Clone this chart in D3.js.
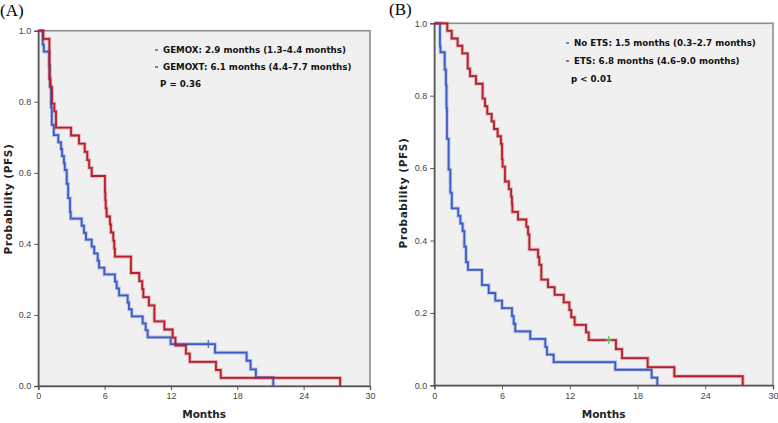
<!DOCTYPE html>
<html>
<head>
<meta charset="utf-8">
<script src="https://cdn.jsdelivr.net/npm/d3@7"></script>
<style>
  body { margin: 0; background: #fff; }
  svg { display: block; }
</style>
</head>
<body>
<svg id="chart" width="778" height="423"></svg>
<script>
// values
const xTicks = [0, 6, 12, 18, 24, 30];
const yTicks = [0, 0.2, 0.4, 0.6, 0.8, 1.0];

// (A) GEMOX vs GEMOXT
const gemoxTime = [0.4, 0.5, 1.0, 1.05, 1.15, 1.22, 1.4, 1.81, 2.05, 2.15, 2.32, 2.4, 2.57, 2.7, 2.87, 2.93,
  3.92, 4.13, 4.31, 4.83, 5.06, 5.37, 5.49, 5.97, 6.93, 7.09, 7.3, 8.08, 8.2, 8.45, 9.44, 9.71, 9.89, 11.97,
  15.98, 18.84, 19.2, 19.68, 21.25];
const gemoxSurv = [0.961, 0.941, 0.902, 0.843, 0.784, 0.735, 0.706, 0.686, 0.667, 0.647, 0.627, 0.608, 0.569, 0.529, 0.49, 0.471,
  0.451, 0.431, 0.412, 0.392, 0.373, 0.353, 0.333, 0.314, 0.294, 0.275, 0.255, 0.235, 0.216, 0.196, 0.176, 0.157, 0.137, 0.118,
  0.094, 0.071, 0.047, 0.024, 0];
const gemoxCensor = [15.37];

const gemoxtTime = [0.45, 1.0, 1.1, 1.24, 1.45, 1.6, 2.96, 3.68, 4.2, 4.43, 4.6, 4.83,
  6.03, 6.06, 6.1, 6.18, 6.48, 6.57, 6.78, 6.87, 6.93, 8.38, 9.13, 9.4, 9.5, 10.0, 10.5,
  11.4, 12.15, 12.4, 13.35, 13.7, 16.07, 16.5, 27.3];
const gemoxtSurv = [0.977, 0.864, 0.841, 0.795, 0.773, 0.727, 0.705, 0.682, 0.659, 0.636, 0.614, 0.591,
  0.545, 0.523, 0.5, 0.477, 0.455, 0.432, 0.409, 0.386, 0.364, 0.318, 0.295, 0.273, 0.25, 0.227, 0.182,
  0.159, 0.136, 0.114, 0.091, 0.068, 0.045, 0.023, 0];
const gemoxtCensor = [];

// (B) No ETS vs ETS
const noEtsTime = [0.5, 0.55, 0.92, 1.03, 1.08, 1.12, 1.27, 1.42, 1.55, 2.12, 2.31, 2.51, 2.66, 2.81, 2.98,
  4.22, 4.82, 5.4, 6.0, 6.88, 7.03, 7.17, 8.5, 9.83, 9.98, 10.57, 16.03, 19.25, 19.75];
const noEtsSurv = [0.936, 0.92, 0.872, 0.83, 0.766, 0.681, 0.596, 0.532, 0.489, 0.468, 0.447, 0.426, 0.383, 0.34, 0.319,
  0.277, 0.255, 0.234, 0.213, 0.191, 0.17, 0.149, 0.128, 0.106, 0.085, 0.064, 0.043, 0.021, 0];
const noEtsCensor = [];

const etsTime = [1.15, 1.54, 2.07, 2.48, 2.96, 3.16, 3.69, 4.28, 4.49, 4.69, 5.08, 5.29, 5.61, 5.9,
  6.0, 6.05, 6.26, 6.6, 6.8, 6.88, 6.92, 7.41, 8.15, 8.3, 8.42, 9.19, 9.3, 9.48, 10.07, 10.66,
  11.46, 11.96, 12.13, 12.43, 13.44, 13.68, 16.09, 16.63, 18.9, 21.26, 27.32];
const etsSurv = [0.979, 0.958, 0.938, 0.917, 0.875, 0.854, 0.833, 0.792, 0.771, 0.75, 0.729, 0.708, 0.688, 0.667,
  0.625, 0.604, 0.563, 0.542, 0.521, 0.5, 0.479, 0.458, 0.438, 0.417, 0.375, 0.354, 0.333, 0.292, 0.271, 0.25,
  0.229, 0.208, 0.188, 0.167, 0.146, 0.125, 0.1, 0.075, 0.05, 0.025, 0];
const etsCensor = [15.45];

const legendA = ['GEMOX: 2.9 months (1.3\u20134.4 months)', 'GEMOXT: 6.1 months (4.4\u20137.7 months)', 'P = 0.36'];
const legendB = ['No ETS: 1.5 months (0.3\u20132.7 months)', 'ETS: 6.8 months (4.6\u20139.0 months)', 'p < 0.01'];

const BLUE = '#3d5bc6';
const RED = '#b71f2a';

const svg = d3.select('#chart');

function survAt(times, surv, t) {
  let s = 1;
  for (let i = 0; i < times.length; i++) {
    if (times[i] <= t) s = surv[i];
  }
  return s;
}

function drawPanel(p) {
  const x = d3.scaleLinear().domain([0, 30]).range([p.left, p.right]);
  const y = d3.scaleLinear().domain([0, 1]).range([p.bottom, p.top]);
  const g = svg.append('g');

  g.append('rect')
    .attr('x', p.left).attr('y', p.top)
    .attr('width', p.right - p.left).attr('height', p.bottom - p.top)
    .attr('fill', '#f0f0f0')
    .attr('stroke', '#8c8c8c')
    .attr('stroke-width', 1.6);

  const xAxis = g.append('g')
    .attr('transform', `translate(0,${p.bottom})`)
    .call(d3.axisBottom(x).tickValues(xTicks).tickSize(4).tickPadding(3).tickFormat(d3.format('d')));
  const yAxis = g.append('g')
    .attr('transform', `translate(${p.left},0)`)
    .call(d3.axisLeft(y).tickValues(yTicks).tickSize(4).tickPadding(3).tickFormat(d3.format('.1f')));
  [xAxis, yAxis].forEach(a => {
    a.select('.domain').attr('stroke', '#555').attr('stroke-width', 1.4);
    a.selectAll('.tick line').attr('stroke', '#555');
    a.selectAll('.tick text')
      .attr('fill', '#444')
      .style('font-family', '"Liberation Sans", Arial, sans-serif')
      .style('font-size', '9px');
  });

  const line = d3.line()
    .x(d => x(d[0]))
    .y(d => y(d[1]))
    .curve(d3.curveStepAfter);

  p.series.forEach(s => {
    const pts = [[0, 1]].concat(s.time.map((t, i) => [t, s.surv[i]]));
    g.append('path')
      .attr('d', line(pts))
      .attr('fill', 'none')
      .attr('stroke', s.color)
      .attr('stroke-opacity', 0.3)
      .attr('stroke-width', 3.6);
    g.append('path')
      .attr('d', line(pts))
      .attr('fill', 'none')
      .attr('stroke', s.color)
      .attr('stroke-width', 1.8);
    s.censor.forEach(c => {
      const cx = x(c), cy = y(survAt(s.time, s.surv, c));
      g.append('line')
        .attr('x1', cx).attr('x2', cx).attr('y1', cy - 4).attr('y2', cy + 4)
        .attr('stroke', s.censorColor).attr('stroke-width', 1.2);
      if (s.censorCross) {
        g.append('line')
          .attr('x1', cx - 3).attr('x2', cx + 3).attr('y1', cy).attr('y2', cy)
          .attr('stroke', s.censorColor).attr('stroke-width', 1.2);
      }
    });
  });

  // legend text inside the plot
  p.legend.forEach((txt, i) => {
    const ly = p.legendY + i * p.legendGap;
    if (i < 2) {
      g.append('line')
        .attr('x1', p.legendX - 8).attr('x2', p.legendX - 5)
        .attr('y1', ly).attr('y2', ly)
        .attr('stroke', p.series[i].color).attr('stroke-width', 1.4);
    }
    g.append('text')
      .attr('x', i < 2 ? p.legendX : p.legendX - 3)
      .attr('y', ly)
      .attr('dominant-baseline', 'central')
      .style('font-family', '"DejaVu Sans", Verdana, sans-serif')
      .style('font-weight', 'bold')
      .style('font-size', '8.7px')
      .attr('fill', '#111')
      .text(txt);
  });

  g.append('text')
    .attr('x', (p.left + p.right) / 2)
    .attr('y', 414)
    .attr('text-anchor', 'middle')
    .attr('dominant-baseline', 'central')
    .style('font-family', '"DejaVu Sans", Verdana, sans-serif')
    .style('font-weight', 'bold')
    .style('font-size', '10.5px')
    .attr('fill', '#222')
    .text('Months');

  g.append('text')
    .attr('transform', `translate(${p.ylabelX},${p.ylabelY}) rotate(-90)`)
    .attr('text-anchor', 'middle')
    .attr('dominant-baseline', 'central')
    .style('font-family', '"DejaVu Sans", Verdana, sans-serif')
    .style('font-weight', 'bold')
    .style('font-size', '10.5px')
    .style('letter-spacing', '0.6px')
    .attr('fill', '#222')
    .text('Probability (PFS)');

  g.append('text')
    .attr('x', p.tagX).attr('y', p.tagY)
    .style('font-family', '"Liberation Serif", "Times New Roman", serif')
    .style('font-size', '17px')
    .attr('fill', '#000')
    .text(p.tag);
}

drawPanel({
  left: 38.3, right: 370, top: 30.7, bottom: 386,
  tag: '(A)', tagX: 0, tagY: 15.5,
  ylabelX: 8, ylabelY: 199,
  legend: legendA, legendX: 163, legendY: 50, legendGap: 17,
  series: [
    { time: gemoxTime, surv: gemoxSurv, censor: gemoxCensor, color: BLUE, censorColor: BLUE, censorCross: false },
    { time: gemoxtTime, surv: gemoxtSurv, censor: gemoxtCensor, color: RED, censorColor: RED, censorCross: false }
  ]
});

drawPanel({
  left: 434.3, right: 773, top: 23.3, bottom: 385.3,
  tag: '(B)', tagX: 389, tagY: 15,
  ylabelX: 403, ylabelY: 193,
  legend: legendB, legendX: 574, legendY: 43, legendGap: 18,
  series: [
    { time: noEtsTime, surv: noEtsSurv, censor: noEtsCensor, color: BLUE, censorColor: BLUE, censorCross: false },
    { time: etsTime, surv: etsSurv, censor: etsCensor, color: RED, censorColor: '#5cc85c', censorCross: true }
  ]
});
</script>
</body>
</html>
